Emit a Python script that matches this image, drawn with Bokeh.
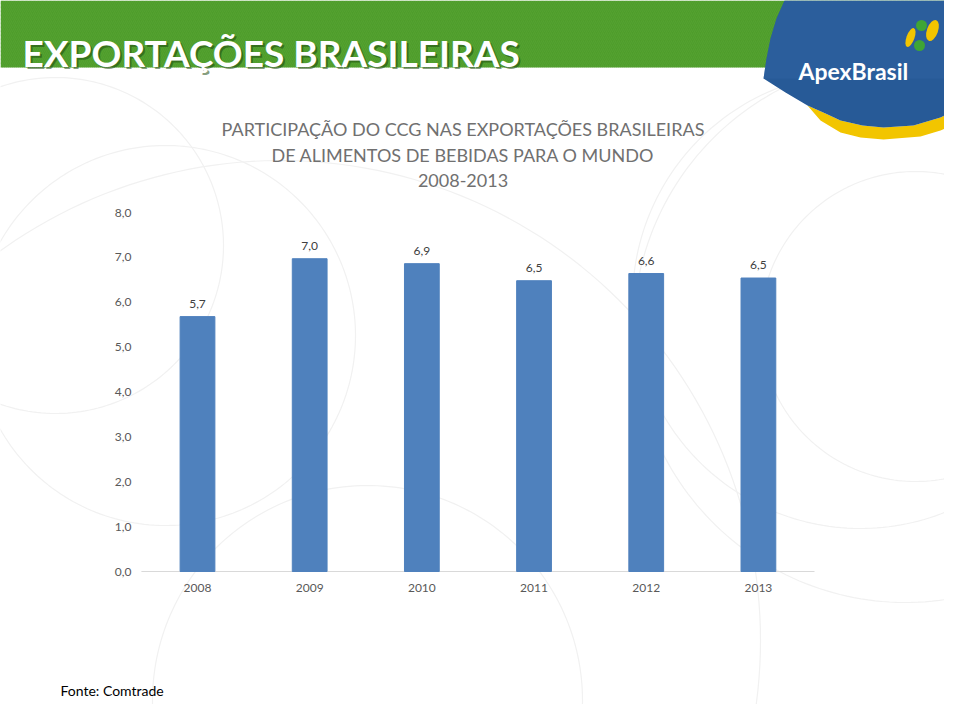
import numpy as np
from bokeh.plotting import figure
from bokeh.models import Range1d
from bokeh.core.properties import value
from bokeh.embed import file_html
from bokeh.resources import INLINE

# ---------------- data ----------------
years = ["2008", "2009", "2010", "2011", "2012", "2013"]
shares = [5.68, 6.97, 6.86, 6.48, 6.64, 6.54]
y_ticks = [0, 1, 2, 3, 4, 5, 6, 7, 8]
y_tick_labels = ["0,0", "1,0", "2,0", "3,0", "4,0", "5,0", "6,0", "7,0", "8,0"]
title_lines = ["PARTICIPAÇÃO DO CCG NAS EXPORTAÇÕES BRASILEIRAS",
               "DE ALIMENTOS DE BEBIDAS PARA O MUNDO",
               "2008-2013"]
header_text = "EXPORTAÇÕES BRASILEIRAS"
source_text = "Fonte: Comtrade"
logo_text = "ApexBrasil"

value_labels = [f"{v:.1f}".replace(".", ",") for v in shares]

# ---------------- layout constants (page pixels) ----------------
W, H = 944, 704
PX0, PY0 = 0, 0                 # canvas origin in picture pixels
X_LEFT, X_RIGHT = 140.9, 814.0  # category band
Y_ZERO, Y_EIGHT = 571.0, 212.0
cat_px = (X_RIGHT - X_LEFT) / len(years)
val_px = (Y_ZERO - Y_EIGHT) / 8.0

x_start = -(X_LEFT - PX0) / cat_px
x_end = x_start + W / cat_px
y_start = -(PY0 + H - Y_ZERO) / val_px
y_end = (Y_ZERO - PY0) / val_px

p = figure(width=W, height=H, output_backend="svg", toolbar_location=None,
           x_range=Range1d(x_start, x_end), y_range=Range1d(y_start, y_end),
           x_axis_type=None, y_axis_type=None, min_border=0,
           background_fill_color="white", border_fill_color="white")
p.outline_line_color = None
p.grid.visible = False
p.extra_x_ranges = {"px": Range1d(PX0, PX0 + W)}
p.extra_y_ranges = {"px": Range1d(PY0 + H, PY0)}
PX = dict(x_range_name="px", y_range_name="px")

HEAD_FONT = value("Lato")

# ---------------- faint background circles ----------------
circ_x = [55, 165, 367, 915, 860, 905, 280]
circ_y = [245, 335, 700, 326, 300, 330, 640]
circ_r = [168, 190, 215, 155, 228, 272, 480]
for cx, cy, r in zip(circ_x, circ_y, circ_r):
    t = np.linspace(0, 2 * np.pi, 240)
    p.line(cx + r * np.cos(t), cy + r * np.sin(t), line_color="#F1F1F1",
           line_width=1.2, **PX)

# ---------------- header band ----------------
p.quad(left=0, right=960, top=0, bottom=67, fill_color="#4E9C2B",
       line_color=None, hatch_pattern="right_diagonal_line",
       hatch_color="#5AA835", hatch_scale=4, hatch_weight=0.8, hatch_alpha=0.6, **PX)
p.text(x=[24], y=[54], text=[header_text], text_color="#1E4A0E", text_alpha=0.55,
       text_font=HEAD_FONT, text_font_style="bold",
       text_font_size="37px", text_baseline="alphabetic", **PX)
p.text(x=[22], y=[52], text=[header_text], text_color="white",
       text_font=HEAD_FONT, text_font_style="bold",
       text_font_size="37px", text_baseline="alphabetic", **PX)

# ---------------- logo ----------------
yel_x = [807, 825, 840, 862, 883, 913, 940, 960, 960, 940, 920, 883, 860, 840, 820]
yel_y = [105, 113, 120, 125, 127, 125, 117, 107, 122, 130, 136, 139, 137, 132, 120]
p.patch(yel_x, yel_y, fill_color="#F2C500", line_color=None, **PX)
blue_x = [784, 776, 770, 766, 763, 785, 807, 825, 840, 862, 883, 913, 940, 960, 960]
blue_y = [0, 18, 38, 58, 78, 92, 105, 113, 120, 125, 127, 125, 117, 107, 0]
p.patch(blue_x, blue_y, fill_color="#275A97", line_color=None, **PX)
p.patch([784, 776, 770, 766, 763, 960, 960], [0, 18, 38, 58, 78, 78, 0],
        fill_color="#3568A5", fill_alpha=0.35, line_color=None, **PX)
p.text(x=[798], y=[70], text=[logo_text], text_color="white",
       text_font=HEAD_FONT, text_font_style="bold",
       text_font_size="23px", text_baseline="alphabetic", **PX)
p.ellipse(x=[910, 932], y=[37, 30], width=[8, 11], height=[20, 22],
          angle=[-0.35, -0.35], fill_color="#F2C500", line_color=None, **PX)
p.scatter(x=[921, 919], y=[25, 45], size=11, fill_color="#3FA535",
          line_color=None, **PX)

# ---------------- chart title ----------------
p.text(x=[462.5] * 3, y=[128, 154, 180], text=title_lines, text_color="#707070",
       text_font=value("Lato"), text_font_size="18px", text_align="center",
       text_baseline="middle", **PX)

# ---------------- chart ----------------
xc = np.arange(len(years)) + 0.5
p.segment(x0=[0], y0=[0], x1=[len(years)], y1=[0], line_color="#D9D9D9", line_width=1)
p.vbar(x=xc, top=shares, bottom=0, width=0.31, fill_color="#4F81BD",
       line_color="#4F81BD")
p.text(x=xc, y=np.array(shares) + 13 / val_px, text=value_labels,
       text_color="#404040", text_font=value("Lato"), text_font_size="12px",
       text_align="center", text_baseline="middle")
p.text(x=[-(X_LEFT - 131) / cat_px] * len(y_ticks), y=y_ticks, text=y_tick_labels,
       text_color="#595959", text_font=value("Lato"), text_font_size="12px",
       text_align="right", text_baseline="middle")
p.text(x=xc, y=[-16 / val_px] * len(years), text=years, text_color="#595959",
       text_font=value("Lato"), text_font_size="12px", text_align="center",
       text_baseline="middle")

# ---------------- source ----------------
p.text(x=[60], y=[690], text=[source_text], text_color="#000000",
       text_font=value("Lato"), text_font_size="14px", text_baseline="middle", **PX)

open("out.html", "w").write(file_html(p, INLINE))
